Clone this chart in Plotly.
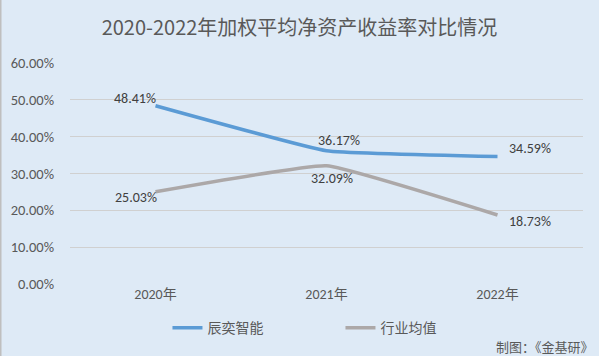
import plotly.graph_objects as go

years = ["2020年", "2021年", "2022年"]
chenyi = [48.41, 36.17, 34.59]
industry = [25.03, 32.09, 18.73]
yticks = [0, 10, 20, 30, 40, 50, 60]

FONT = "Carlito, Calibri, Noto Sans CJK SC, sans-serif"
CJK = "Noto Sans CJK SC"
fig = go.Figure()
fig.add_trace(go.Scatter(
    x=years, y=chenyi, name="辰奕智能", mode="lines",
    line=dict(color="#5B9BD5", width=3.5, shape="spline", smoothing=0.3),
))
fig.add_trace(go.Scatter(
    x=years, y=industry, name="行业均值", mode="lines",
    line=dict(color="#ACA8A8", width=3.5, shape="spline", smoothing=0.3),
))

# label placement: (xanchor, xshift, yshift)
blue_pos = [("right", 2, 7), ("center", 12, 10), ("left", 9, 8)]
gray_pos = [("right", 3, -6), ("center", 5, -13), ("left", 9, -6)]
for vals, pos in ((chenyi, blue_pos), (industry, gray_pos)):
    for cat, v, (xa, xs, ys) in zip(years, vals, pos):
        fig.add_annotation(x=cat, y=v, text=f"{v:.2f}%", showarrow=False,
                           xanchor=xa, yanchor="middle", xshift=xs, yshift=ys,
                           font=dict(size=14, color="#404040", family=FONT))

fig.update_layout(
    width=599, height=356,
    paper_bgcolor="#DEEAF6", plot_bgcolor="#DEEAF6",
    margin=dict(l=70, r=16, t=63, b=72),
    title=dict(text="2020-2022年加权平均净资产收益率对比情况", x=0.5, xanchor="center",
               y=0.92, yanchor="middle",
               font=dict(size=20, color="#595959", family=CJK)),
    xaxis=dict(type="category", range=[-0.5, 2.5], showgrid=False, zeroline=False,
               showline=False, ticks="",
               tickfont=dict(size=14, color="#595959", family=FONT)),
    yaxis=dict(range=[0, 60], tickvals=yticks, ticktext=[f"{v:.2f}%" for v in yticks],
               showgrid=True, gridcolor="#D0D0D0", gridwidth=1, zeroline=False,
               tickfont=dict(size=14.5, color="#595959", family=FONT),
               ticks="outside", ticklen=12, tickcolor="rgba(0,0,0,0)"),
    legend=dict(orientation="h", x=0.19, xanchor="left", y=-0.2, yanchor="middle",
                font=dict(size=14, color="#595959", family=CJK),
                entrywidth=128, entrywidthmode="pixels", bgcolor="rgba(0,0,0,0)"),
    showlegend=True,
)
fig.add_annotation(text="制图：《金基研》", xref="paper", yref="paper", x=1.025, y=-0.285,
                   xanchor="right", yanchor="middle", showarrow=False,
                   font=dict(size=13, color="#595959", family=CJK))
fig.add_shape(type="line", xref="paper", yref="paper", x0=-0.135, x1=-0.135, y0=-0.33, y1=1.29,
              line=dict(color="#BFBFBF", width=1.5))
fig.write_html("out.html", config={"displayModeBar": False},
               post_script="document.body.style.margin='0';")
